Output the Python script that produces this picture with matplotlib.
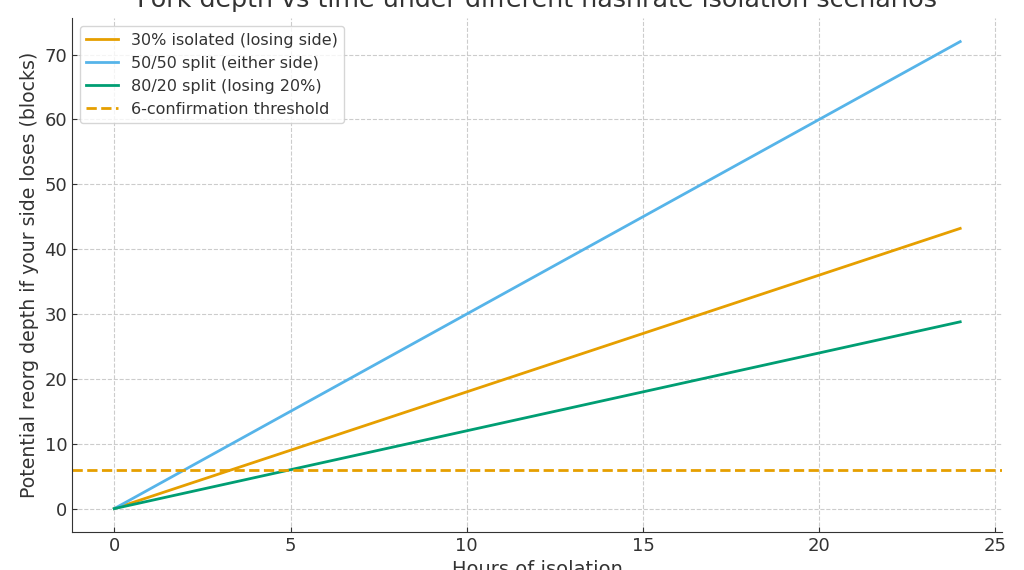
import matplotlib
matplotlib.use("Agg")
import matplotlib.pyplot as plt

# horas de aislamiento y profundidad de reorg (bloques)
hours = [0, 6, 12, 18, 24]
isolated_30 = [0, 10.8, 21.6, 32.4, 43.2]
split_50_50 = [0, 18, 36, 54, 72]
split_80_20 = [0, 7.2, 14.4, 21.6, 28.8]
threshold = 6

plt.rcParams['font.family'] = ['DejaVu Sans']
plt.rcParams['text.color'] = '#333333'
plt.rcParams['axes.labelcolor'] = '#333333'
plt.rcParams['xtick.color'] = '#333333'
plt.rcParams['ytick.color'] = '#333333'

fig = plt.figure(figsize=(10.24, 5.7), dpi=100)
ax = fig.add_axes([0.0703, 0.0667, 0.9087, 0.9013])

ax.plot(hours, isolated_30, color='#E69F00', lw=2, label='30% isolated (losing side)')
ax.plot(hours, split_50_50, color='#56B4E9', lw=2, label='50/50 split (either side)')
ax.plot(hours, split_80_20, color='#009E73', lw=2, label='80/20 split (losing 20%)')
ax.axhline(threshold, color='#E69F00', lw=2, ls='--', label='6-confirmation threshold')

ax.set_title('Fork depth vs time under different hashrate isolation scenarios', fontsize=18.3, pad=8)
ax.set_xlabel('Hours of isolation', fontsize=14)
ax.set_ylabel('Potential reorg depth if your side loses (blocks)', fontsize=13.6)

ax.grid(True, ls='--', color='#cccccc', lw=0.8)
ax.spines['top'].set_visible(False)
ax.spines['right'].set_visible(False)
ax.spines['left'].set_color('#333333')
ax.spines['bottom'].set_color('#333333')
ax.tick_params(direction='in', labelsize=13)
ax.legend(loc='upper left', fontsize=11.5)

plt.savefig('out.png', dpi=100)
